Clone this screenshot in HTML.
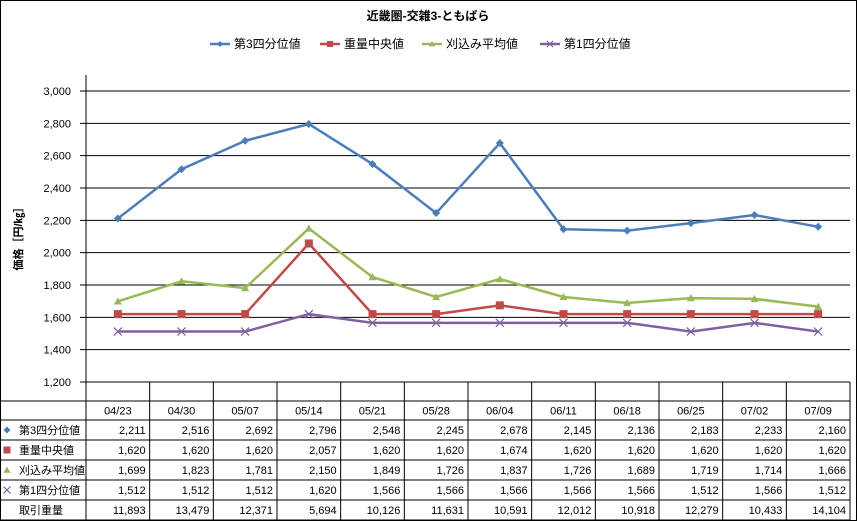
<!DOCTYPE html>
<html><head><meta charset="utf-8"><style>
html,body{margin:0;padding:0;background:#fff}
svg{display:block;font-family:"Liberation Sans","Noto Sans CJK JP",sans-serif}
</style></head><body>
<svg id="c" width="857" height="521" xmlns="http://www.w3.org/2000/svg">
<rect x="0.5" y="0.5" width="856" height="520" fill="#fff" stroke="#000"/>
<text x="428" y="20" text-anchor="middle" font-size="12" font-weight="bold">近畿圏-交雑3-ともばら</text>
<g id="legend"></g>
<g id="grid"></g>
<g id="series"></g>
<g id="table"></g>
<text transform="translate(22,236) rotate(-90)" text-anchor="middle" font-size="11" font-weight="bold">価格［円/㎏］</text>
</svg>
<script>
const categories=["04/23","04/30","05/07","05/14","05/21","05/28","06/04","06/11","06/18","06/25","07/02","07/09"];
const q3=[2211,2516,2692,2796,2548,2245,2678,2145,2136,2183,2233,2160];
const median=[1620,1620,1620,2057,1620,1620,1674,1620,1620,1620,1620,1620];
const avg=[1699,1823,1781,2150,1849,1726,1837,1726,1689,1719,1714,1666];
const q1=[1512,1512,1512,1620,1566,1566,1566,1566,1566,1512,1566,1512];
const volume=[11893,13479,12371,5694,10126,11631,10591,12012,10918,12279,10433,14104];
const yTicks=[1200,1400,1600,1800,2000,2200,2400,2600,2800,3000];
const NS="http://www.w3.org/2000/svg";
const L=86,R=850,colW=(R-L)/categories.length;
const yMin=1200,yMax=3000,yTop=91,yBot=382;
const X=i=>L+colW*(i+0.5);
const Y=v=>yBot-(v-yMin)/(yMax-yMin)*(yBot-yTop);
function mk(tag,attrs,parent){const e=document.createElementNS(NS,tag);for(const k in attrs)e.setAttribute(k,attrs[k]);parent.appendChild(e);return e;}
const fmt=v=>v.toLocaleString("en-US");
const grid=document.getElementById("grid");
yTicks.forEach(t=>{
  const l=mk("line",{x1:L-6,x2:R,y1:Y(t),y2:Y(t),stroke:"#000","stroke-width":1},grid);
  
  
  const tx=mk("text",{x:L-15,y:Y(t)+4,"text-anchor":"end","font-size":11},grid);
  tx.textContent=fmt(t);
  
  
});
const ax=mk("line",{x1:L,x2:L,y1:75,y2:401,stroke:"#000"},grid);


const seriesDefs=[
 {name:"第3四分位値",data:q3,color:"#4a7ebb",m:"diamond"},
 {name:"重量中央値",data:median,color:"#be4b48",m:"square"},
 {name:"刈込み平均値",data:avg,color:"#98b954",m:"triangle"},
 {name:"第1四分位値",data:q1,color:"#7d60a0",m:"x"}];
function marker(g,m,x,y,c,s){
  let e;
  if(m==="diamond")e=mk("path",{d:`M${x} ${y-s}L${x+s} ${y}L${x} ${y+s}L${x-s} ${y}Z`,fill:c},g);
  else if(m==="square")e=mk("rect",{x:x-s,y:y-s,width:2*s,height:2*s,fill:c},g);
  else if(m==="triangle")e=mk("path",{d:`M${x} ${y-s}L${x+s} ${y+s*0.8}L${x-s} ${y+s*0.8}Z`,fill:c},g);
  else e=mk("path",{d:`M${x-s} ${y-s}L${x+s} ${y+s}M${x-s} ${y+s}L${x+s} ${y-s}`,stroke:c,"stroke-width":1.2,fill:"none"},g);
  return e;
}
const sg=document.getElementById("series");
seriesDefs.forEach(s=>{
  const g=mk("g",{},sg);
  
  
  const p=mk("polyline",{points:s.data.map((v,i)=>X(i)+","+Y(v)).join(" "),fill:"none",stroke:s.color,"stroke-width":2.5},g);
  
  
  s.data.forEach((v,i)=>{
    const e=marker(g,s.m,X(i),Y(v),s.color,4);
    
    
  });
});
// legend
const lg=document.getElementById("legend");
const lx=[210,320,422,540];
seriesDefs.forEach((s,i)=>{
  const g=mk("g",{},lg);
  
  
  mk("line",{x1:lx[i],x2:lx[i]+20,y1:44,y2:44,stroke:s.color,"stroke-width":2.5},g);
  marker(g,s.m,lx[i]+10,44,s.color,3);
  const t=mk("text",{x:lx[i]+24,y:48,"font-size":12},g);t.textContent=s.name;
});
// table
const tb=document.getElementById("table");
const rows=[{label:"",vals:categories},...seriesDefs.map(s=>({label:s.name,vals:s.data.map(fmt),s})),{label:"取引重量",vals:volume.map(fmt)}];
const rowY=[401,420,440,460,480,500,520];
mk("line",{x1:0,x2:R,y1:401,y2:401,stroke:"#000"},tb);
rowY.slice(1).forEach(y=>mk("line",{x1:0,x2:R,y1:y,y2:y,stroke:"#000"},tb));
for(let i=0;i<=categories.length;i++)mk("line",{x1:L+colW*i,x2:L+colW*i,y1:382,y2:520,stroke:"#000"},tb);
rows.forEach((r,ri)=>{
  const cy=(rowY[ri]+rowY[ri+1])/2+4;
  if(r.s){const m=marker(tb,r.s.m,7,cy-4,r.s.color,3.5);}
  if(r.label){const t=mk("text",{x:19,y:cy,"font-size":11},tb);t.textContent=r.label;
    
    }
  r.vals.forEach((v,i)=>{
    const t=ri===0?mk("text",{x:X(i),y:cy,"text-anchor":"middle","font-size":11},tb):mk("text",{x:L+colW*(i+1)-4,y:cy,"text-anchor":"end","font-size":11},tb);
    t.textContent=v;
    
    
  });
});
</script>
</body></html>
